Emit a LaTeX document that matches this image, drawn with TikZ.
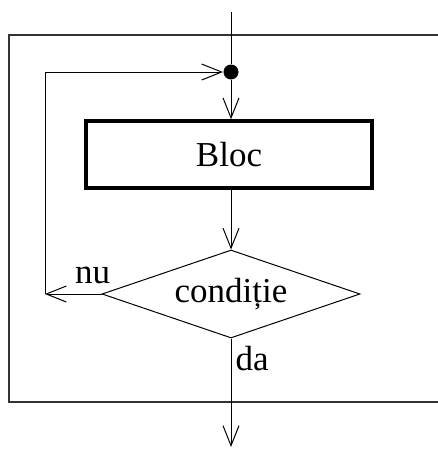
\documentclass[tikz,border=0pt]{standalone}
\usepackage{fontspec}
\setmainfont{Liberation Serif}
\usetikzlibrary{arrows.meta,shapes.geometric}
\begin{document}
\begin{tikzpicture}[x=1pt,y=-1pt,
  line width=1pt,
  flow/.style={-{Straight Barb[length=20pt,width=16pt,line width=1pt]}},
  lbl/.style={font=\fontsize{35}{40}\selectfont, inner sep=0pt},
  blockbox/.style={draw, line width=3.5pt, minimum width=286pt, minimum height=67pt, inner sep=0pt, lbl},
  testbox/.style={draw, diamond, aspect=2.93, minimum width=258pt, minimum height=88pt, inner sep=0pt, lbl},
  joint/.style={circle, fill, minimum size=15pt, inner sep=0pt}
]
\useasboundingbox (0,0) rectangle (438,450);
% frame around the loop (open on the right)
\draw[line width=2pt, black!80] (445,35) -- (9,35) -- (9,402) -- (445,402);

\coordinate (in) at (231,12);
\node[joint] (j) at (231,72) {};
\node[blockbox] (bloc) at (229,154.5) {Bloc};
\node[testbox] (cond) at (231,294) {condiție};
\coordinate (back) at (45,294);
\coordinate (out) at (231,447);

\draw (in) -- (j);
\draw[flow] (j) -- (j |- bloc.north);
\draw[flow] (j |- bloc.south) -- (cond.north);
\draw[flow] (cond.west) -- (back);
\draw[flow] (back) |- (j);
\draw[flow] (cond.south) -- (out);

\node[lbl, anchor=base] (nu) at (92.5,283) {nu};
\node[lbl, anchor=base west] (da) at (235,370) {da};
\end{tikzpicture}
\end{document}
